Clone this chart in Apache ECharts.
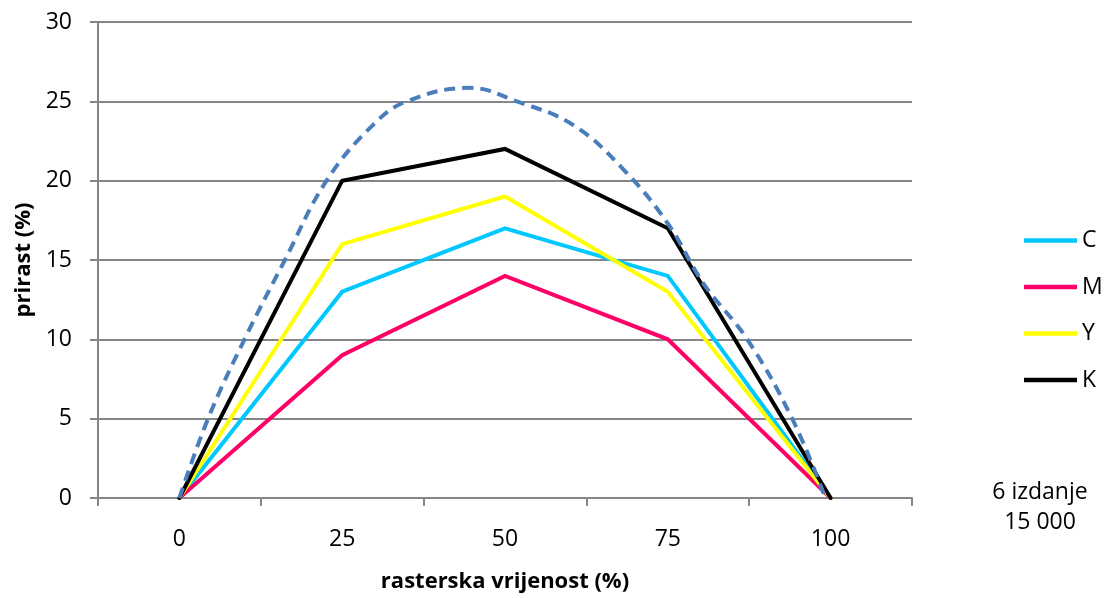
<!DOCTYPE html>
<html>
<head>
<meta charset="utf-8">
<script src="https://cdn.jsdelivr.net/npm/echarts@6/dist/echarts.min.js"></script>
<style>
html,body{margin:0;padding:0;background:#fff;}
#chart{width:1106px;height:598px;}
</style>
</head>
<body>
<div id="chart"></div>
<script>
const categories = ['0', '25', '50', '75', '100'];
const seriesC = [0, 13, 17, 14, 0];
const seriesM = [0, 9, 14, 10, 0];
const seriesY = [0, 16, 19, 13, 0];
const seriesK = [0, 20, 22, 17, 0];
// dashed envelope curve at several raster positions
const envelopeX = [0, 4.4, 10, 16.2, 22.6, 29.7, 34.9, 44.6, 51.8, 60.5, 68.2, 75, 80.5, 87.2, 94.1, 99.2];
const envelopeY = [0, 5, 10, 15, 20, 23.5, 25, 25.85, 25, 23.5, 20.7, 17.3, 13.5, 10, 5, 0];
const yTicks = [0, 5, 10, 15, 20, 25, 30];

const FONT = '"Open Sans", "Noto Sans", sans-serif';
const grayAxis = '#868686';
const FS = 23;

const chart = echarts.init(document.getElementById('chart'), null, {renderer: 'canvas'});

function lineSeries(name, data, color) {
  return {
    name: name, type: 'line', data: data, symbol: 'none',
    lineStyle: {color: color, width: 4, cap: 'round', join: 'miter'},
    itemStyle: {color: color},
    emphasis: {disabled: true}, animation: false
  };
}

const envelopeData = envelopeX.map(function (x, i) { return [x, envelopeY[i]]; });

chart.setOption({
  animation: false,
  backgroundColor: '#ffffff',
  textStyle: {fontFamily: FONT},
  grid: {left: 98, right: 194, top: 22, bottom: 98, containLabel: false},
  legend: {
    orient: 'vertical', left: 1019, top: 224, itemGap: 23.5,
    itemWidth: 53, itemHeight: 14, itemTextGap: 4,
    icon: 'path://M0,5 L53,5 L53,9.5 L0,9.5 Z',
    data: ['C', 'M', 'Y', 'K'],
    textStyle: {fontFamily: FONT, fontSize: FS, color: '#000'}
  },
  xAxis: [{
    type: 'category', data: categories, boundaryGap: true,
    name: 'rasterska vrijenost (%)', nameLocation: 'middle', nameGap: 73,
    nameTextStyle: {fontFamily: FONT, fontSize: 22, fontWeight: 'bold', color: '#000'},
    axisLine: {lineStyle: {color: grayAxis, width: 2}},
    axisTick: {show: true, length: 8, lineStyle: {color: grayAxis, width: 2}, alignWithLabel: false},
    axisLabel: {fontFamily: FONT, fontSize: FS, color: '#000', margin: 30},
    splitLine: {show: false}
  }, {
    type: 'value', min: -12.5, max: 112.5, show: false,
    axisLine: {show: false, onZero: false}, axisTick: {show: false}, axisLabel: {show: false}, splitLine: {show: false}
  }],
  yAxis: {
    type: 'value', min: 0, max: 30, interval: 5,
    name: 'prirast (%)', nameLocation: 'middle', nameGap: 59, nameRotate: 90,
    nameTextStyle: {fontFamily: FONT, fontSize: 22, fontWeight: 'bold', color: '#000'},
    axisLine: {show: true, onZero: false, lineStyle: {color: grayAxis, width: 2}},
    axisTick: {show: true, length: 8, lineStyle: {color: grayAxis, width: 2}},
    axisLabel: {fontFamily: FONT, fontSize: FS, color: '#000', margin: 26,
      formatter: function (v) { return yTicks.indexOf(v) >= 0 ? String(v) : ''; }},
    splitLine: {show: true, lineStyle: {color: grayAxis, width: 2}}
  },
  graphic: [{
    type: 'text', x: 1040, y: 477,
    style: {text: '6 izdanje\n15 000', fontFamily: FONT, fontSize: FS, fill: '#000',
      textAlign: 'center', textVerticalAlign: 'top', lineHeight: 30}
  }],
  series: [
    lineSeries('C', seriesC, '#00c8ff'),
    lineSeries('M', seriesM, '#ff0066'),
    lineSeries('Y', seriesY, '#ffff00'),
    lineSeries('K', seriesK, '#000000'),
    {
      name: 'envelope', type: 'line', xAxisIndex: 1, data: envelopeData, symbol: 'none', smooth: 0.4,
      lineStyle: {color: '#4a7ebb', width: 4, type: [11, 7]},
      emphasis: {disabled: true}, animation: false, z: 3
    }
  ]
});
</script>
</body>
</html>
